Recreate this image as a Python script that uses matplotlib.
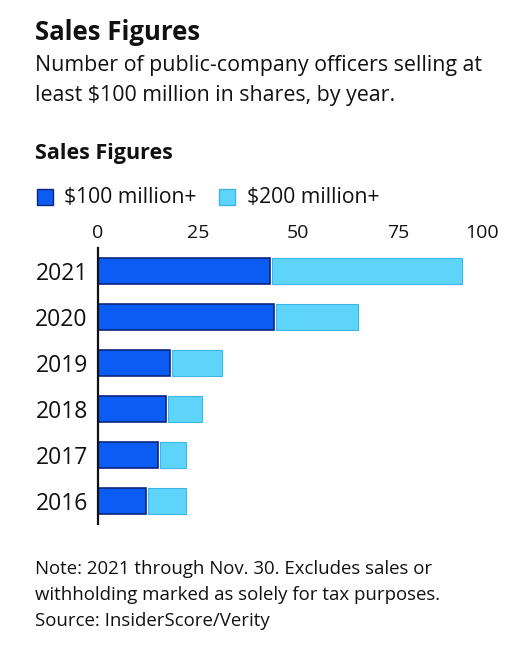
import matplotlib.pyplot as plt
from matplotlib.patches import Rectangle

years = ['2021', '2020', '2019', '2018', '2017', '2016']
over_100m = [43, 44, 18, 17, 15, 12]
over_200m = [48, 21, 13, 9, 7, 10]
ticks = [0, 25, 50, 75, 100]
series_names = ['$100 million+', '$200 million+']

title = 'Sales Figures'
subtitle = ['Number of public-company officers selling at',
            'least $100 million in shares, by year.']
chart_title = 'Sales Figures'
notes = ['Note: 2021 through Nov. 30. Excludes sales or',
         'withholding marked as solely for tax purposes.',
         'Source: InsiderScore/Verity']

dark, dark_edge = '#0b5cf2', '#0d2580'
light, light_edge = '#5fd4fb', '#3cb6e2'
ink = '#111111'

plt.rcParams['font.family'] = ['Open Sans', 'DejaVu Sans']

W, H = 520, 649
fig = plt.figure(figsize=(W / 100, H / 100), dpi=100)


def px(x, y):
    return x / W, 1 - y / H


# header text
fig.text(*px(35, 40), title, fontsize=18.5, fontweight='bold', color=ink, va='baseline')
fig.text(*px(35, 71), subtitle[0], fontsize=15.4, color=ink, va='baseline')
fig.text(*px(35, 101.5), subtitle[1], fontsize=15.4, color=ink, va='baseline')
fig.text(*px(35, 159.5), chart_title, fontsize=15.5, fontweight='bold', color=ink, va='baseline')

# legend
for (sx, tx), name, fc, ec in zip([(37, 64), (219, 247)], series_names,
                                  [dark, light], [dark_edge, light_edge]):
    fig.patches.append(Rectangle(px(sx, 205), 16 / W, 16 / H, facecolor=fc,
                                 edgecolor=ec, linewidth=1, transform=fig.transFigure))
    fig.text(*px(tx, 203), name, fontsize=15.2, color=ink, va='baseline')

# bars
ax = fig.add_axes([97.5 / W, 1 - 524 / H, 401 / W, 276 / H])
pos = list(range(len(years)))
gap = 0.6
ax.barh(pos, over_100m, height=0.55, color=dark, edgecolor=dark_edge, linewidth=1.2)
ax.barh(pos, [v - gap for v in over_200m], left=[v + gap for v in over_100m],
        height=0.55, color=light, edgecolor=light_edge, linewidth=0.8)

ax.set_xlim(0, 100)
ax.set_ylim(len(years) - 0.5, -0.5)
ax.set_yticks(pos)
ax.set_yticklabels(years, fontsize=16.5, color=ink)
ax.xaxis.tick_top()
ax.set_xticks(ticks)
ax.set_xticklabels([str(t) for t in ticks], fontsize=14, color=ink)
ax.get_xticklabels()[-1].set_horizontalalignment('right')
ax.tick_params(length=0)
ax.tick_params(axis='x', pad=4)
ax.tick_params(axis='y', pad=7)
for side in ['top', 'right', 'bottom']:
    ax.spines[side].set_visible(False)
ax.spines['left'].set_linewidth(1.6)
ax.spines['left'].set_color(ink)

# footnotes
for i, line in enumerate(notes):
    fig.text(*px(35, 573.5 + 26.5 * i), line, fontsize=13.4, color=ink, va='baseline')

fig.savefig('out.png', dpi=100, facecolor='white')
